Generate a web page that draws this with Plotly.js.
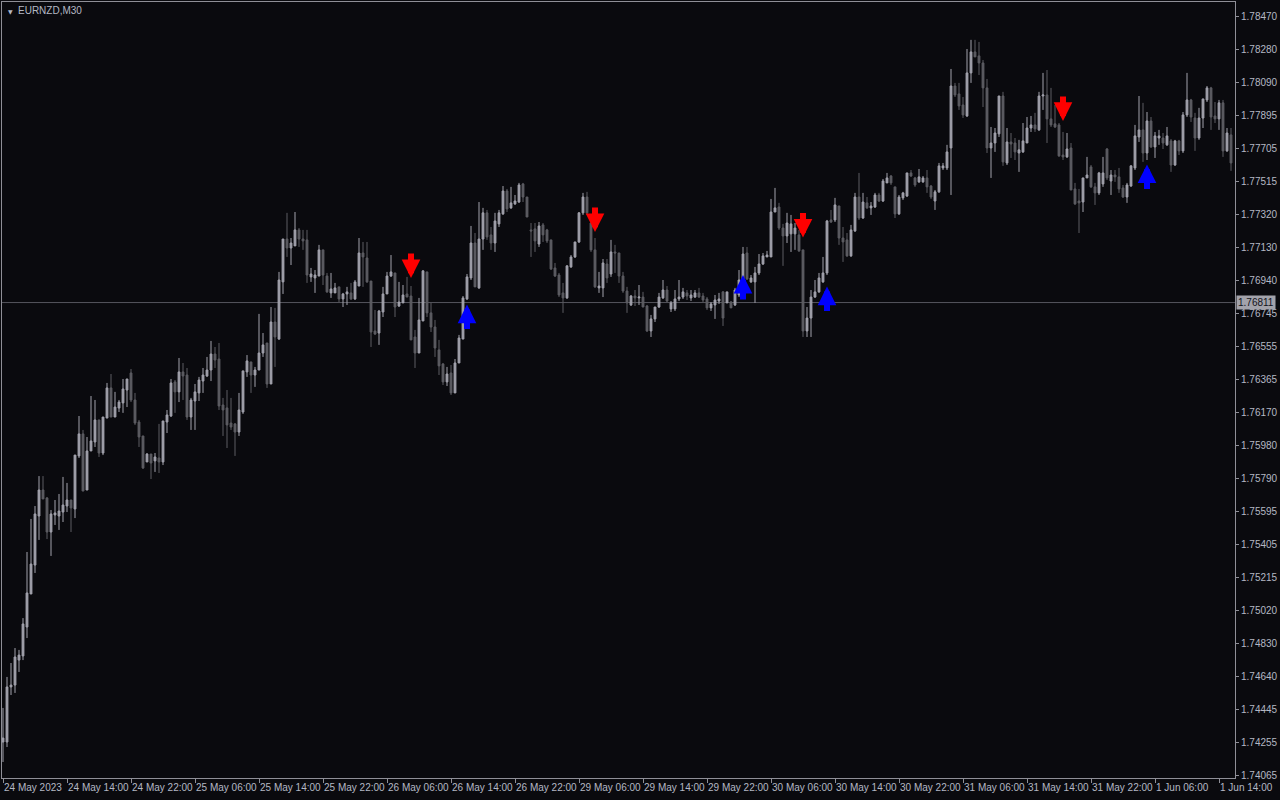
<!DOCTYPE html>
<html>
<head>
<meta charset="utf-8">
<script src="https://cdn.plot.ly/plotly-3.0.1.min.js"></script>
<style>
html,body{margin:0;padding:0;background:#0a0a0e;}
#chart{width:1280px;height:800px;}
</style>
</head>
<body>
<div id="chart"></div>
<script>
const symbolTitle = 'EURNZD,M30';
const bidPrice = 1.76811;

const opens = [
1.74258,1.74258,1.74578,1.74589,1.74734,1.74758,1.74926,1.75118,1.75286,1.75571,
1.75722,1.75676,1.75478,1.75577,1.75571,1.75594,1.75629,1.75664,1.75612,1.75920,
1.76048,1.75722,1.75949,1.76001,1.76129,1.75937,1.76140,1.76315,1.76146,1.76198,
1.76228,1.76303,1.76402,1.76245,1.76117,1.76036,1.75885,1.75931,1.75891,1.75908,
1.75885,1.76117,1.76152,1.76350,1.76292,1.76408,1.76390,1.76146,1.76239,1.76286,
1.76355,1.76384,1.76419,1.76512,1.76483,1.76216,1.76199,1.76111,1.76106,1.76059,
1.76175,1.76408,1.76466,1.76390,1.76419,1.76518,1.76576,1.76338,1.76698,1.76599,
1.76931,1.77180,1.77128,1.77140,1.77233,1.77180,1.77175,1.76960,1.76954,1.76965,
1.77117,1.76965,1.76867,1.76867,1.76902,1.76832,1.76861,1.76867,1.76832,1.76907,
1.77099,1.77070,1.76936,1.76646,1.76634,1.76756,1.76861,1.76965,1.76983,1.76791,
1.76809,1.76861,1.76849,1.76611,1.76518,1.76704,1.76989,1.76751,1.76669,1.76536,
1.76454,1.76350,1.76402,1.76286,1.76460,1.76599,1.76832,1.76954,1.77157,1.76896,
1.77180,1.77332,1.77204,1.77157,1.77268,1.77326,1.77459,1.77361,1.77384,1.77395,
1.77500,1.77424,1.77233,1.77239,1.77151,1.77262,1.77233,1.77175,1.77012,1.76971,
1.76867,1.76838,1.77018,1.77076,1.77163,1.77332,1.77424,1.77273,1.77117,1.76896,
1.76896,1.77035,1.76977,1.77105,1.77099,1.76965,1.76878,1.76797,1.76849,1.76838,
1.76843,1.76791,1.76646,1.76716,1.76785,1.76838,1.76884,1.76774,1.76774,1.76832,
1.76843,1.76867,1.76838,1.76843,1.76867,1.76849,1.76832,1.76780,1.76797,1.76820,
1.76873,1.76809,1.76814,1.76797,1.76855,1.76942,1.77099,1.76931,1.76931,1.76983,
1.77035,1.77076,1.77076,1.77337,1.77366,1.77244,1.77198,1.77210,1.77210,1.77204,
1.77117,1.76646,1.76721,1.76843,1.76873,1.76931,1.76983,1.77291,1.77291,1.77372,
1.77186,1.77175,1.77082,1.77227,1.77424,1.77302,1.77390,1.77361,1.77366,1.77436,
1.77401,1.77506,1.77546,1.77483,1.77326,1.77419,1.77430,1.77564,1.77535,1.77512,
1.77512,1.77535,1.77488,1.77401,1.77454,1.77593,1.77593,1.77709,1.78069,1.78023,
1.77959,1.77895,1.78145,1.78267,1.78244,1.78203,1.78058,1.77709,1.77738,1.77791,
1.78011,1.77622,1.77744,1.77738,1.77680,1.77686,1.77738,1.77825,1.77843,1.77814,
1.78011,1.78017,1.77878,1.77849,1.77843,1.77668,1.77657,1.77709,1.77471,1.77401,
1.77395,1.77535,1.77599,1.77483,1.77448,1.77500,1.77703,1.77517,1.77552,1.77541,
1.77477,1.77424,1.77488,1.77593,1.77773,1.77814,1.77680,1.77866,1.77715,1.77767,
1.77767,1.77727,1.77750,1.77610,1.77750,1.77692,1.77901,1.77988,1.77883,1.77767,
1.77883,1.77988,1.78058,1.77895,1.77878,1.77971,1.77692,1.77785
];

const highs = [
1.74456,1.74636,1.74717,1.74804,1.74793,1.74978,1.75362,1.75554,1.75629,1.75803,
1.75803,1.75681,1.75606,1.75664,1.75699,1.75798,1.75763,1.75664,1.75925,1.76152,
1.76071,1.76030,1.76268,1.76245,1.76129,1.76146,1.76344,1.76396,1.76292,1.76245,
1.76367,1.76367,1.76425,1.76286,1.76129,1.76036,1.75937,1.75931,1.75937,1.76106,
1.76123,1.76187,1.76367,1.76361,1.76489,1.76460,1.76431,1.76257,1.76338,1.76379,
1.76431,1.76495,1.76588,1.76553,1.76576,1.76257,1.76303,1.76257,1.76111,1.76286,
1.76414,1.76506,1.76466,1.76437,1.76745,1.76634,1.76576,1.76785,1.76780,1.76989,
1.77180,1.77332,1.77186,1.77337,1.77244,1.77233,1.77233,1.77012,1.77000,1.77146,
1.77117,1.76983,1.76983,1.76925,1.76902,1.76867,1.76902,1.76925,1.76942,1.77186,
1.77163,1.77163,1.76936,1.76768,1.76768,1.76902,1.76989,1.77087,1.76983,1.76931,
1.76913,1.76960,1.76907,1.76652,1.76838,1.77000,1.76989,1.76809,1.76710,1.76594,
1.76460,1.76437,1.76448,1.76483,1.76623,1.76849,1.76977,1.77256,1.77215,1.77395,
1.77361,1.77349,1.77250,1.77332,1.77349,1.77488,1.77471,1.77483,1.77436,1.77506,
1.77506,1.77424,1.77273,1.77273,1.77279,1.77273,1.77239,1.77175,1.77041,1.76983,
1.76925,1.77029,1.77087,1.77163,1.77337,1.77448,1.77454,1.77302,1.77186,1.76989,
1.77064,1.77064,1.77175,1.77146,1.77099,1.76989,1.76902,1.76855,1.76884,1.76913,
1.76873,1.76797,1.76739,1.76785,1.76867,1.76942,1.76907,1.76820,1.76884,1.76942,
1.76896,1.76884,1.76884,1.76884,1.76896,1.76867,1.76843,1.76814,1.76855,1.76867,
1.76878,1.76873,1.76820,1.76896,1.77000,1.77134,1.77134,1.76971,1.77018,1.77093,
1.77099,1.77111,1.77413,1.77477,1.77390,1.77268,1.77332,1.77320,1.77273,1.77233,
1.77117,1.76785,1.76884,1.76942,1.76983,1.77076,1.77291,1.77349,1.77419,1.77372,
1.77250,1.77215,1.77262,1.77448,1.77564,1.77448,1.77424,1.77395,1.77448,1.77448,
1.77529,1.77564,1.77552,1.77483,1.77436,1.77454,1.77564,1.77581,1.77541,1.77587,
1.77546,1.77581,1.77494,1.77465,1.77622,1.77622,1.77727,1.78168,1.78087,1.78087,
1.78005,1.78284,1.78337,1.78337,1.78325,1.78220,1.78110,1.77831,1.77825,1.78011,
1.78035,1.77825,1.77796,1.77767,1.77756,1.77854,1.77889,1.77895,1.77913,1.78035,
1.78145,1.78162,1.78058,1.77959,1.77854,1.77802,1.77796,1.77738,1.77506,1.77471,
1.77535,1.77657,1.77610,1.77506,1.77570,1.77657,1.77709,1.77581,1.77581,1.77593,
1.77494,1.77506,1.77610,1.77843,1.78011,1.77971,1.77918,1.77889,1.77802,1.77814,
1.77796,1.77831,1.77761,1.77756,1.77756,1.77918,1.78145,1.77994,1.77913,1.77942,
1.77994,1.78069,1.78064,1.77976,1.77988,1.77988,1.77825,1.77825
];

const lows = [
1.74142,1.74229,1.74531,1.74543,1.74665,1.74734,1.74862,1.75118,1.75240,1.75432,
1.75670,1.75437,1.75339,1.75519,1.75490,1.75536,1.75594,1.75478,1.75559,1.75908,
1.75716,1.75722,1.75949,1.75972,1.75914,1.75925,1.76140,1.76146,1.76146,1.76175,
1.76170,1.76204,1.76233,1.76100,1.75972,1.75844,1.75885,1.75786,1.75827,1.75821,
1.75867,1.76053,1.76146,1.76170,1.76233,1.76245,1.76129,1.76071,1.76071,1.76239,
1.76286,1.76379,1.76355,1.76431,1.76187,1.76036,1.75966,1.76071,1.75920,1.76036,
1.76164,1.76379,1.76286,1.76321,1.76419,1.76495,1.76315,1.76338,1.76437,1.76594,
1.76861,1.77076,1.77029,1.77140,1.77134,1.77117,1.76925,1.76931,1.76867,1.76965,
1.76913,1.76867,1.76838,1.76867,1.76814,1.76785,1.76797,1.76826,1.76826,1.76907,
1.76902,1.76925,1.76553,1.76623,1.76565,1.76727,1.76861,1.76960,1.76727,1.76785,
1.76809,1.76843,1.76594,1.76431,1.76518,1.76704,1.76727,1.76640,1.76495,1.76390,
1.76332,1.76326,1.76274,1.76286,1.76460,1.76599,1.76826,1.76942,1.76902,1.76890,
1.77117,1.77175,1.77117,1.77105,1.77250,1.77320,1.77337,1.77355,1.77378,1.77390,
1.77395,1.77308,1.77076,1.77105,1.77134,1.77163,1.77157,1.77000,1.76960,1.76843,
1.76751,1.76832,1.77012,1.77070,1.77157,1.77320,1.77320,1.77105,1.76896,1.76867,
1.76843,1.76925,1.76960,1.76983,1.76925,1.76867,1.76751,1.76791,1.76791,1.76797,
1.76785,1.76640,1.76611,1.76698,1.76780,1.76832,1.76814,1.76756,1.76762,1.76820,
1.76832,1.76826,1.76820,1.76838,1.76838,1.76814,1.76768,1.76762,1.76716,1.76803,
1.76675,1.76809,1.76780,1.76791,1.76843,1.76942,1.76942,1.76925,1.76809,1.76971,
1.77029,1.77076,1.77076,1.77337,1.77233,1.77024,1.77157,1.77105,1.77117,1.77105,
1.76611,1.76611,1.76611,1.76838,1.76867,1.76925,1.76971,1.77273,1.77279,1.77146,
1.77047,1.77076,1.77076,1.77221,1.77291,1.77297,1.77355,1.77320,1.77361,1.77395,
1.77395,1.77506,1.77494,1.77302,1.77320,1.77407,1.77424,1.77541,1.77483,1.77506,
1.77506,1.77448,1.77413,1.77349,1.77448,1.77581,1.77581,1.77436,1.78005,1.77930,
1.77883,1.77889,1.78087,1.78238,1.78133,1.77947,1.77680,1.77535,1.77686,1.77773,
1.77605,1.77610,1.77651,1.77639,1.77570,1.77680,1.77738,1.77802,1.77802,1.77808,
1.77930,1.77738,1.77831,1.77825,1.77657,1.77639,1.77651,1.77465,1.77378,1.77215,
1.77337,1.77535,1.77477,1.77378,1.77436,1.77483,1.77523,1.77436,1.77512,1.77448,
1.77419,1.77390,1.77483,1.77581,1.77744,1.77628,1.77639,1.77709,1.77651,1.77727,
1.77703,1.77721,1.77570,1.77605,1.77668,1.77680,1.77889,1.77860,1.77692,1.77756,
1.77825,1.77976,1.77814,1.77854,1.77814,1.77657,1.77686,1.77576
];

const closes = [
1.74281,1.74578,1.74589,1.74752,1.74763,1.74944,1.75124,1.75292,1.75583,1.75722,
1.75670,1.75478,1.75583,1.75589,1.75600,1.75635,1.75664,1.75618,1.75925,1.76048,
1.75716,1.75949,1.76007,1.76129,1.75937,1.76146,1.76315,1.76146,1.76204,1.76233,
1.76309,1.76367,1.76245,1.76111,1.76030,1.75850,1.75931,1.75879,1.75914,1.75885,
1.76123,1.76158,1.76344,1.76292,1.76408,1.76384,1.76146,1.76245,1.76292,1.76361,
1.76390,1.76419,1.76512,1.76477,1.76210,1.76187,1.76100,1.76088,1.76059,1.76187,
1.76414,1.76472,1.76390,1.76419,1.76518,1.76565,1.76338,1.76698,1.76611,1.76942,
1.77180,1.77128,1.77157,1.77233,1.77180,1.77169,1.76971,1.76977,1.76971,1.77117,
1.76971,1.76873,1.76890,1.76896,1.76832,1.76861,1.76873,1.76832,1.76931,1.77099,
1.77076,1.76931,1.76640,1.76628,1.76762,1.76861,1.76965,1.76989,1.76785,1.76814,
1.76855,1.76843,1.76594,1.76518,1.76710,1.76995,1.76751,1.76669,1.76547,1.76443,
1.76350,1.76396,1.76286,1.76460,1.76605,1.76838,1.76960,1.77157,1.76902,1.77180,
1.77332,1.77192,1.77157,1.77285,1.77332,1.77459,1.77355,1.77390,1.77401,1.77494,
1.77424,1.77308,1.77227,1.77169,1.77256,1.77204,1.77169,1.77006,1.76965,1.76855,
1.76838,1.77024,1.77076,1.77163,1.77332,1.77424,1.77332,1.77117,1.76902,1.76907,
1.77041,1.76954,1.77105,1.77099,1.76965,1.76878,1.76809,1.76849,1.76838,1.76843,
1.76785,1.76646,1.76716,1.76785,1.76843,1.76884,1.76820,1.76809,1.76832,1.76843,
1.76873,1.76849,1.76855,1.76867,1.76843,1.76826,1.76780,1.76803,1.76826,1.76832,
1.76721,1.76873,1.76780,1.76884,1.76942,1.77093,1.76948,1.76954,1.76983,1.77035,
1.77082,1.77087,1.77337,1.77361,1.77244,1.77198,1.77273,1.77268,1.77244,1.77111,
1.76646,1.76721,1.76843,1.76873,1.76954,1.76983,1.77285,1.77279,1.77378,1.77186,
1.77163,1.77082,1.77233,1.77424,1.77302,1.77395,1.77361,1.77372,1.77436,1.77401,
1.77517,1.77535,1.77506,1.77326,1.77424,1.77448,1.77564,1.77546,1.77494,1.77541,
1.77535,1.77483,1.77424,1.77454,1.77605,1.77605,1.77686,1.78069,1.78017,1.77953,
1.77901,1.78145,1.78267,1.78238,1.78203,1.78058,1.77709,1.77738,1.77796,1.78011,
1.77628,1.77744,1.77732,1.77686,1.77698,1.77750,1.77825,1.77843,1.77820,1.78011,
1.78017,1.77878,1.77843,1.77831,1.77663,1.77657,1.77703,1.77465,1.77384,1.77390,
1.77535,1.77552,1.77483,1.77448,1.77564,1.77564,1.77535,1.77552,1.77541,1.77471,
1.77424,1.77494,1.77605,1.77779,1.77814,1.77680,1.77866,1.77715,1.77779,1.77779,
1.77738,1.77779,1.77610,1.77750,1.77692,1.77901,1.77988,1.77889,1.77767,1.77883,
1.77994,1.78058,1.77889,1.77878,1.77971,1.77692,1.77796,1.77622
];

// signal arrows (bar index, price at the arrow tip)
const sellIdx = [102, 148, 200, 265];
const sellPrice = [1.76953, 1.77221, 1.77189, 1.77866];
const buyIdx = [116, 185, 206, 286];
const buyPrice = [1.76799, 1.76971, 1.76904, 1.77613];

// time axis labels, one every 16 bars
const timeLabels = ['24 May 2023','24 May 14:00','24 May 22:00','25 May 06:00','25 May 14:00',
  '25 May 22:00','26 May 06:00','26 May 14:00','26 May 22:00','29 May 06:00','29 May 14:00',
  '29 May 22:00','30 May 06:00','30 May 14:00','30 May 22:00','31 May 06:00','31 May 14:00',
  '31 May 22:00','1 Jun 06:00','1 Jun 14:00'];
const labelStep = 16;

// price axis labels
const priceTicks = [1.78470,1.78280,1.78090,1.77895,1.77705,1.77515,1.77320,1.77130,1.76940,
  1.76745,1.76555,1.76365,1.76170,1.75980,1.75790,1.75595,1.75405,1.75215,1.75020,1.74830,
  1.74640,1.74445,1.74255,1.74065];

const barX = opens.map((_, i) => i);
const tickPos = timeLabels.map((_, k) => k * labelStep);

const bgColor = '#0a0a0e';
const axisColor = '#8f8f97';
const textColor = '#b4b8c4';
const bullColor = '#a2a2ac';
const bearColor = '#5d5d63';
const fontFam = 'Liberation Sans, Arial, sans-serif';

const candles = {
  type: 'candlestick',
  x: barX, open: opens, high: highs, low: lows, close: closes,
  increasing: {line: {color: bullColor, width: 1}, fillcolor: bullColor},
  decreasing: {line: {color: bearColor, width: 1}, fillcolor: bearColor},
  whiskerwidth: 0,
  hoverinfo: 'skip',
  showlegend: false
};

const annotations = [];
sellIdx.forEach((ix, k) => {
  annotations.push({x: ix, y: sellPrice[k], xref: 'x', yref: 'y', text: '', showarrow: true,
    arrowhead: 2, arrowsize: 0.62, arrowwidth: 6, arrowcolor: '#ff0000', ax: 0, ay: -26, standoff: 0});
});
buyIdx.forEach((ix, k) => {
  annotations.push({x: ix, y: buyPrice[k], xref: 'x', yref: 'y', text: '', showarrow: true,
    arrowhead: 2, arrowsize: 0.62, arrowwidth: 6, arrowcolor: '#0000ff', ax: 0, ay: 26, standoff: 0});
});
annotations.push({xref: 'paper', yref: 'y', x: 1, y: bidPrice, xanchor: 'left', yanchor: 'middle',
  xshift: 1, text: bidPrice.toFixed(5), showarrow: false, bgcolor: '#a3a3ab', borderpad: 1,
  font: {family: fontFam, size: 10, color: '#12121a'}});
annotations.push({xref: 'paper', yref: 'paper', x: 0, y: 1, xanchor: 'left', yanchor: 'top',
  xshift: 4, yshift: -4, text: '▼', showarrow: false,
  font: {family: 'DejaVu Sans', size: 6, color: textColor}});

const layout = {
  width: 1280, height: 800,
  paper_bgcolor: bgColor, plot_bgcolor: bgColor,
  margin: {l: 2, r: 45, t: 2, b: 22, pad: 0},
  showlegend: false, hovermode: false, dragmode: false,
  boxgap: 0.35,
  title: {text: symbolTitle, xref: 'container', yref: 'container', x: 18/1280, xanchor: 'left',
    y: 1 - 10/800, yanchor: 'middle', font: {family: fontFam, size: 10, color: textColor}},
  xaxis: {
    range: [-0.25, 308], showgrid: false, zeroline: false,
    showline: true, mirror: true, linecolor: axisColor, linewidth: 1,
    ticks: 'outside', ticklen: 4, tickcolor: axisColor, tickwidth: 1,
    tickvals: tickPos, ticktext: timeLabels, ticklabelposition: 'outside right',
    tickangle: 0, automargin: false,
    tickfont: {family: fontFam, size: 10, color: textColor},
    rangeslider: {visible: false}, fixedrange: true
  },
  yaxis: {
    side: 'right', range: [1.74049, 1.78557], showgrid: false, zeroline: false,
    showline: true, mirror: true, linecolor: axisColor, linewidth: 1,
    ticks: 'outside', ticklen: 3, tickcolor: axisColor, tickwidth: 1,
    tickvals: priceTicks, ticktext: priceTicks.map(v => v.toFixed(5)), automargin: false,
    tickfont: {family: fontFam, size: 10, color: textColor}, fixedrange: true
  },
  shapes: [{type: 'line', xref: 'paper', yref: 'y', x0: 0, x1: 1, y0: bidPrice, y1: bidPrice,
    line: {color: '#56565e', width: 1}, layer: 'below'}],
  annotations: annotations
};

Plotly.newPlot('chart', [candles], layout, {staticPlot: true, displayModeBar: false});
</script>
</body>
</html>
